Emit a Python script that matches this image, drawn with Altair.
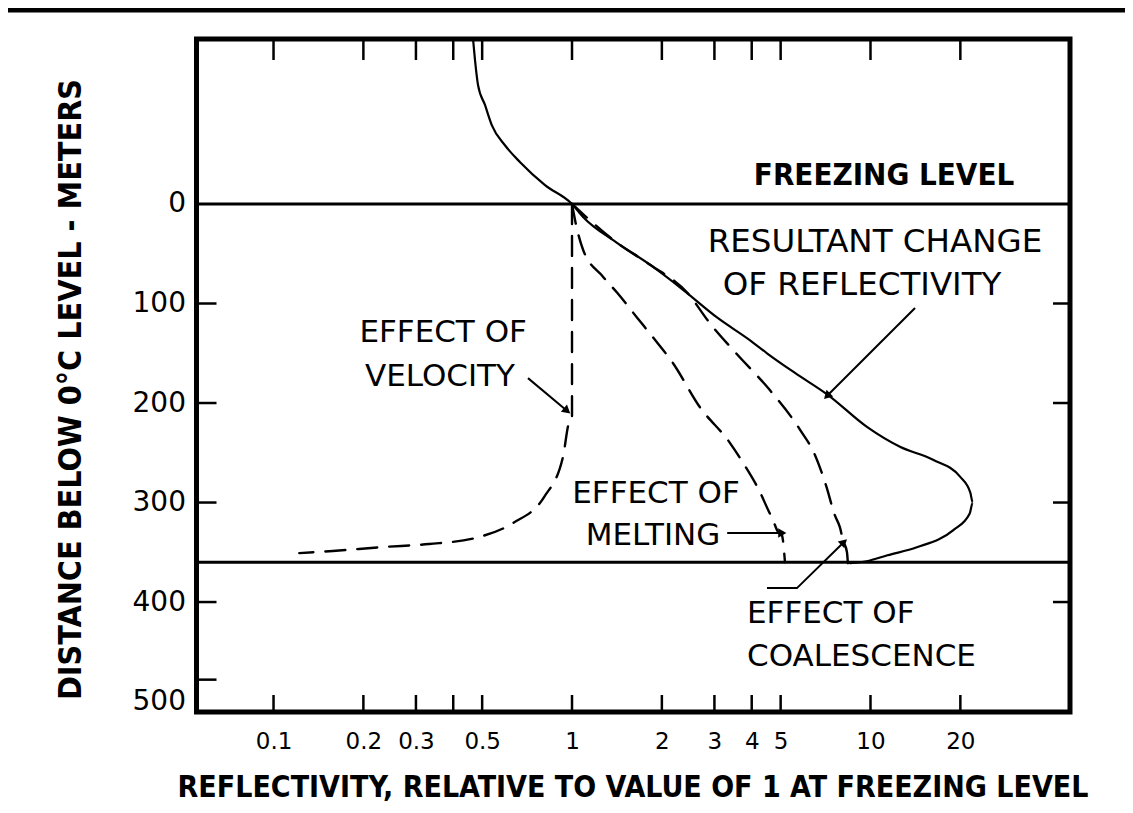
import altair as alt
import pandas as pd

# ---------------- data ----------------
# Resultant change of reflectivity (solid)
res_x = [0.466, 0.473, 0.484, 0.511, 0.539, 0.596, 0.67, 0.812, 1.0, 1.089, 1.415, 1.825, 2.35, 3.06,
         3.95, 4.5, 5.6, 7.21, 9.73, 12.55, 16.2, 19.95, 21.6, 22.0, 21.5, 18.9, 14.3, 11.4, 9.7, 8.54]
res_y = [-166, -145, -120, -99.5, -79, -59, -42, -19, 0, 13, 39, 61, 86, 114,
         137, 150, 170, 192, 224, 244, 257, 274, 290, 300, 311, 328, 345, 353, 359, 361]

# Effect of velocity (dashed)
vel_x = [1.0, 1.0, 0.977, 0.933, 0.806, 0.634, 0.473, 0.332, 0.233, 0.158, 0.122]
vel_y = [0, 217, 220, 254, 294.5, 320.6, 335.7, 341.7, 344.7, 348.7, 350.8]

# Effect of melting (dashed)
mel_x = [1.0, 1.03, 1.089, 1.27, 1.415, 1.65, 1.867, 2.18, 2.68, 3.38, 3.74, 4.27, 4.54, 4.71, 4.9, 5.05, 5.17]
mel_y = [0, 20, 46, 73, 89, 114, 134, 160, 204, 240, 260, 290, 307.5, 317.6, 329.6, 333, 360]

# Effect of coalescence (dashed)
coa_x = [1.0, 1.415, 1.825, 2.43, 2.9, 3.52, 4.6, 5.81, 6.51, 7.1, 7.6, 7.9, 8.09, 8.34, 8.4]
coa_y = [0, 39, 61, 89, 120, 149, 187, 227, 252, 283, 313, 325, 338, 350, 361]

# reference levels (freezing level, bottom of melting layer)
level_y = [0, 360]

# axis ticks / labels
x_label_vals = [0.1, 0.2, 0.3, 0.5, 1, 2, 3, 4, 5, 10, 20]
x_tick_vals = [0.1, 0.2, 0.3, 0.4, 0.5, 1, 2, 3, 4, 5, 10, 20]
y_label_vals = [0, 100, 200, 300, 400, 500]
y_tick_left = [100, 200, 300, 400, 478]
y_tick_right = [100, 200, 300, 400]

# annotation texts (data coordinates)
big_note_text = ["RESULTANT CHANGE", "OF REFLECTIVITY"]
big_note_x = [10.35, 9.37]
big_note_y = [37.7, 81.4]
note_text = ["EFFECT OF", "VELOCITY", "EFFECT OF", "MELTING"]
note_x = [0.37, 0.361, 1.912, 1.868]
note_y = [129.6, 173.9, 291.5, 333.7]
left_note_text = ["EFFECT OF", "COALESCENCE"]
left_note_x = [3.857, 3.857]
left_note_y = [412, 455]
bold_note_text = ["FREEZING LEVEL"]
bold_note_x = [11.1]
bold_note_y = [-28]

# arrows: (arrow id, x, y)
arr_id = ["r", "r", "v", "v", "m", "m", "c", "c", "c"]
arr_x = [14.1, 7.2, 0.712, 0.955, 3.31, 5.01, 4.5, 5.67, 8.09]
arr_y = [104.5, 192, 175, 207, 330.7, 330.7, 386, 386, 340.7]
head_x = [7.2, 0.955, 5.01, 8.09]
head_y = [192, 207, 330.7, 340.7]
head_angle = [225, 130, 90, 46]

# ---------------- chart ----------------
W, H = 873.5, 673
COND = "'DejaVu Sans Condensed', 'Liberation Sans Narrow', 'DejaVu Sans', sans-serif"
PLAIN = "DejaVu Sans"

xs = alt.Scale(type="log", domain=[0.0552, 46.6], nice=False)
ys = alt.Scale(domain=[-165.8, 510.5], reverse=True, nice=False, zero=False)

x_axis = alt.Axis(values=x_label_vals, format="~g", ticks=False, tickSize=0, domain=False, grid=False,
                  labelFont=PLAIN, labelFontSize=23, labelColor="black", labelPadding=18,
                  title="REFLECTIVITY, RELATIVE TO VALUE OF 1 AT FREEZING LEVEL",
                  titleFont=COND, titleFontWeight="bold", titleFontSize=30, titleColor="black",
                  titleX=436, titleY=75, titleBaseline="middle", titleAlign="center")
y_axis = alt.Axis(values=y_label_vals, ticks=False, tickSize=0, domain=False, grid=False,
                  labelFont=PLAIN, labelFontSize=28, labelColor="black", labelPadding=11,
                  title="DISTANCE BELOW 0°C LEVEL - METERS",
                  titleFont=COND, titleFontWeight="bold", titleFontSize=32, titleColor="black",
                  titleX=-126.5, titleY=350, titleAngle=270, titleBaseline="middle", titleAlign="center")


def X(field="x"):
    return alt.X(f"{field}:Q", scale=xs, axis=x_axis)


def Y(field="y"):
    return alt.Y(f"{field}:Q", scale=ys, axis=y_axis)


def curve(xv, yv, dash=None, width=2.2):
    df = pd.DataFrame({"x": xv, "y": yv, "i": list(range(len(xv)))})
    kw = dict(color="black", strokeWidth=width, strokeCap="round", interpolate="monotone")
    if dash:
        kw["strokeDash"] = dash
    return alt.Chart(df).mark_line(**kw).encode(x=X(), y=Y(), order="i:Q")


resultant = curve(res_x, res_y, width=2.2)
velocity = curve(vel_x, vel_y, dash=[20, 12], width=2.4)
melting = curve(mel_x, mel_y, dash=[20, 12], width=2.4)
coalescence = curve(coa_x, coa_y, dash=[20, 12], width=2.4)

levels = alt.Chart(pd.DataFrame({"y": level_y})).mark_rule(color="black", strokeWidth=3).encode(
    y=Y(), x=alt.value(0), x2=alt.value(W))

xt = pd.DataFrame({"x": x_tick_vals})
ticks_top = alt.Chart(xt).mark_rule(color="black", strokeWidth=2.5).encode(
    x=X(), y=alt.value(0), y2=alt.value(21))
ticks_bot = alt.Chart(xt).mark_rule(color="black", strokeWidth=2.5).encode(
    x=X(), y=alt.value(H - 17), y2=alt.value(H))
ticks_left = alt.Chart(pd.DataFrame({"y": y_tick_left})).mark_rule(color="black", strokeWidth=2.5).encode(
    y=Y(), x=alt.value(0), x2=alt.value(20))
ticks_right = alt.Chart(pd.DataFrame({"y": y_tick_right})).mark_rule(color="black", strokeWidth=2.5).encode(
    y=Y(), x=alt.value(W - 17), x2=alt.value(W))

big_notes = alt.Chart(pd.DataFrame({"x": big_note_x, "y": big_note_y, "t": big_note_text})).mark_text(
    font=PLAIN, fontSize=32.5, color="black", align="center", baseline="middle").encode(
    x=X(), y=Y(), text="t:N")
notes = alt.Chart(pd.DataFrame({"x": note_x, "y": note_y, "t": note_text})).mark_text(
    font=PLAIN, fontSize=31, color="black", align="center", baseline="middle").encode(
    x=X(), y=Y(), text="t:N")
left_notes = alt.Chart(pd.DataFrame({"x": left_note_x, "y": left_note_y, "t": left_note_text})).mark_text(
    font=PLAIN, fontSize=31, color="black", align="left", baseline="middle").encode(
    x=X(), y=Y(), text="t:N")
bold_notes = alt.Chart(pd.DataFrame({"x": bold_note_x, "y": bold_note_y, "t": bold_note_text})).mark_text(
    font=COND, fontSize=31, fontWeight="bold", color="black", align="center", baseline="middle").encode(
    x=X(), y=Y(), text="t:N")

arrows = alt.Chart(pd.DataFrame({"x": arr_x, "y": arr_y, "g": arr_id, "i": list(range(len(arr_x)))})).mark_line(
    color="black", strokeWidth=2).encode(x=X(), y=Y(), detail="g:N", order="i:Q")
heads = alt.Chart(pd.DataFrame({"x": head_x, "y": head_y, "a": head_angle})).mark_point(
    shape="triangle", filled=True, color="black", size=90, opacity=1).encode(
    x=X(), y=Y(), angle=alt.Angle("a:Q", scale=None))

page_line = alt.Chart(pd.DataFrame({"k": [0]})).mark_rule(color="black", strokeWidth=5).encode(
    x=alt.value(-192.5), x2=alt.value(934.5), y=alt.value(-29))

chart = alt.layer(
    levels, resultant, velocity, melting, coalescence,
    ticks_top, ticks_bot, ticks_left, ticks_right,
    arrows, heads, big_notes, notes, left_notes, bold_notes, page_line,
).properties(
    width=W, height=H,
    autosize=alt.AutoSizeParams(type="none"),
    padding={"left": 188.5, "top": 31, "right": 55, "bottom": 90},
    background="white",
).configure_view(stroke="black", strokeWidth=5)

chart.save("out.html", embed_options={"renderer": "svg", "actions": False})
